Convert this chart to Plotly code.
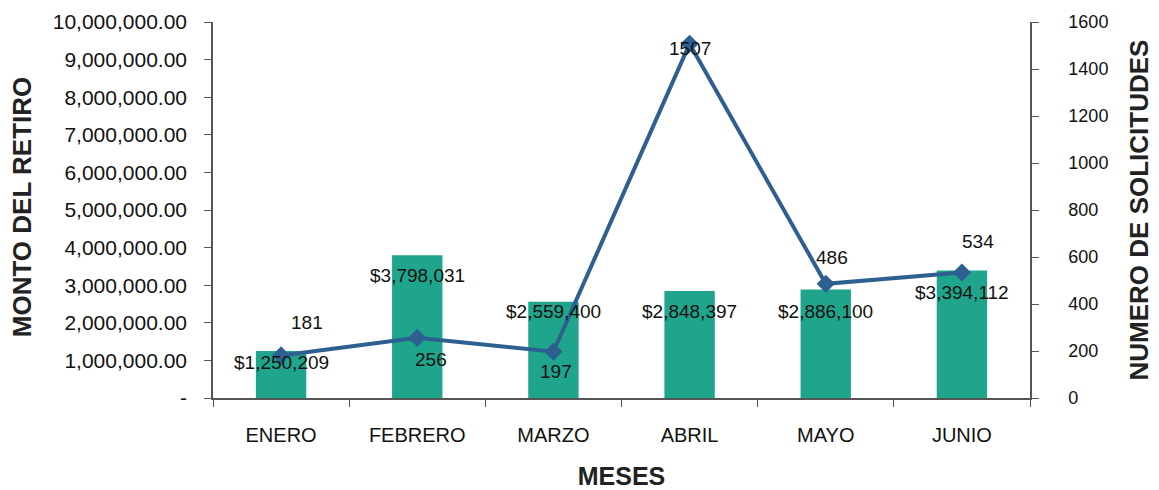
import plotly.graph_objects as go

meses = ["ENERO", "FEBRERO", "MARZO", "ABRIL", "MAYO", "JUNIO"]
monto = [1250209, 3798031, 2559400, 2848397, 2886100, 3394112]
monto_labels = ["$1,250,209", "$3,798,031", "$2,559,400", "$2,848,397", "$2,886,100", "$3,394,112"]
solicitudes = [181, 256, 197, 1507, 486, 534]
left_tickvals = [0, 1e6, 2e6, 3e6, 4e6, 5e6, 6e6, 7e6, 8e6, 9e6, 10e6]
left_ticktext = ["-", "1,000,000.00", "2,000,000.00", "3,000,000.00", "4,000,000.00",
                 "5,000,000.00", "6,000,000.00", "7,000,000.00", "8,000,000.00",
                 "9,000,000.00", "10,000,000.00"]
right_tickvals = [0, 200, 400, 600, 800, 1000, 1200, 1400, 1600]

# label offsets (pixels)
bar_dy = [-12, -20, -10, -21, -22, -22]
line_dx = [26, 14, 3, 0, 6, 16]
line_dy = [33, -22, -20, -5, 26, 31]

BAR = "#1fa58b"
LINE = "#2d6090"
FONT = "Liberation Sans, Arial, sans-serif"
AX = "#555"

fig = go.Figure()
fig.add_trace(go.Bar(x=meses, y=monto, marker=dict(color=BAR, line=dict(width=0)),
                     width=0.37, yaxis="y", showlegend=False, hoverinfo="skip"))
fig.add_trace(go.Scatter(x=meses, y=solicitudes, yaxis="y2", mode="lines+markers",
                         line=dict(color=LINE, width=4),
                         marker=dict(symbol="diamond", size=14, color=LINE),
                         showlegend=False, hoverinfo="skip"))

annotations = []
for m, v, t, dy in zip(meses, monto, monto_labels, bar_dy):
    annotations.append(dict(x=m, y=v, xref="x", yref="y", text=t, showarrow=False,
                            yshift=dy, font=dict(size=19, color="#111", family=FONT)))
for m, v, dx, dy in zip(meses, solicitudes, line_dx, line_dy):
    annotations.append(dict(x=m, y=v, xref="x", yref="y2", text=str(v), showarrow=False,
                            xshift=dx, yshift=dy, font=dict(size=19, color="#111", family=FONT)))
# left axis title
annotations.append(dict(x=-0.2338, y=0.51, xref="paper", yref="paper", xanchor="center",
                        yanchor="middle", textangle=-90, showarrow=False,
                        text="<b>MONTO DEL RETIRO</b>",
                        font=dict(size=26, family=FONT, color="#222")))

fig.update_layout(
    width=1151, height=482,
    margin=dict(l=205, r=129, t=14, b=92, autoexpand=False),
    paper_bgcolor="white", plot_bgcolor="white",
    font=dict(family=FONT, color="#111"),
    xaxis=dict(type="category", showgrid=False, showline=True, linecolor=AX, linewidth=1.5,
               ticks="outside", tickson="boundaries", ticklen=7, tickcolor=AX,
               ticklabelstandoff=18, automargin=False,
               tickfont=dict(size=20, family=FONT, color="#111"),
               title=dict(text="<b>MESES</b>", font=dict(size=25, family=FONT, color="#222"),
                          standoff=25),
               zeroline=False),
    yaxis=dict(range=[0, 10e6], tickvals=left_tickvals, ticktext=left_ticktext,
               showgrid=False, showline=True, linecolor=AX, linewidth=1.5,
               ticks="outside", ticklen=7, tickcolor=AX, ticklabelstandoff=13,
               automargin=False,
               tickfont=dict(size=21, family=FONT, color="#111"),
               zeroline=False),
    yaxis2=dict(range=[0, 1600], tickvals=right_tickvals, overlaying="y", side="right",
                showgrid=False, showline=True, linecolor=AX, linewidth=1.5,
                ticks="outside", ticklen=7, tickcolor=AX, ticklabelstandoff=26,
                automargin=False,
                tickfont=dict(size=18, family=FONT, color="#111"),
                title=dict(text="<b>NUMERO DE SOLICITUDES</b>", font=dict(size=26, family=FONT, color="#222"),
                           standoff=22),
                zeroline=False),
    annotations=annotations,
)

fig.write_html("out.html")
